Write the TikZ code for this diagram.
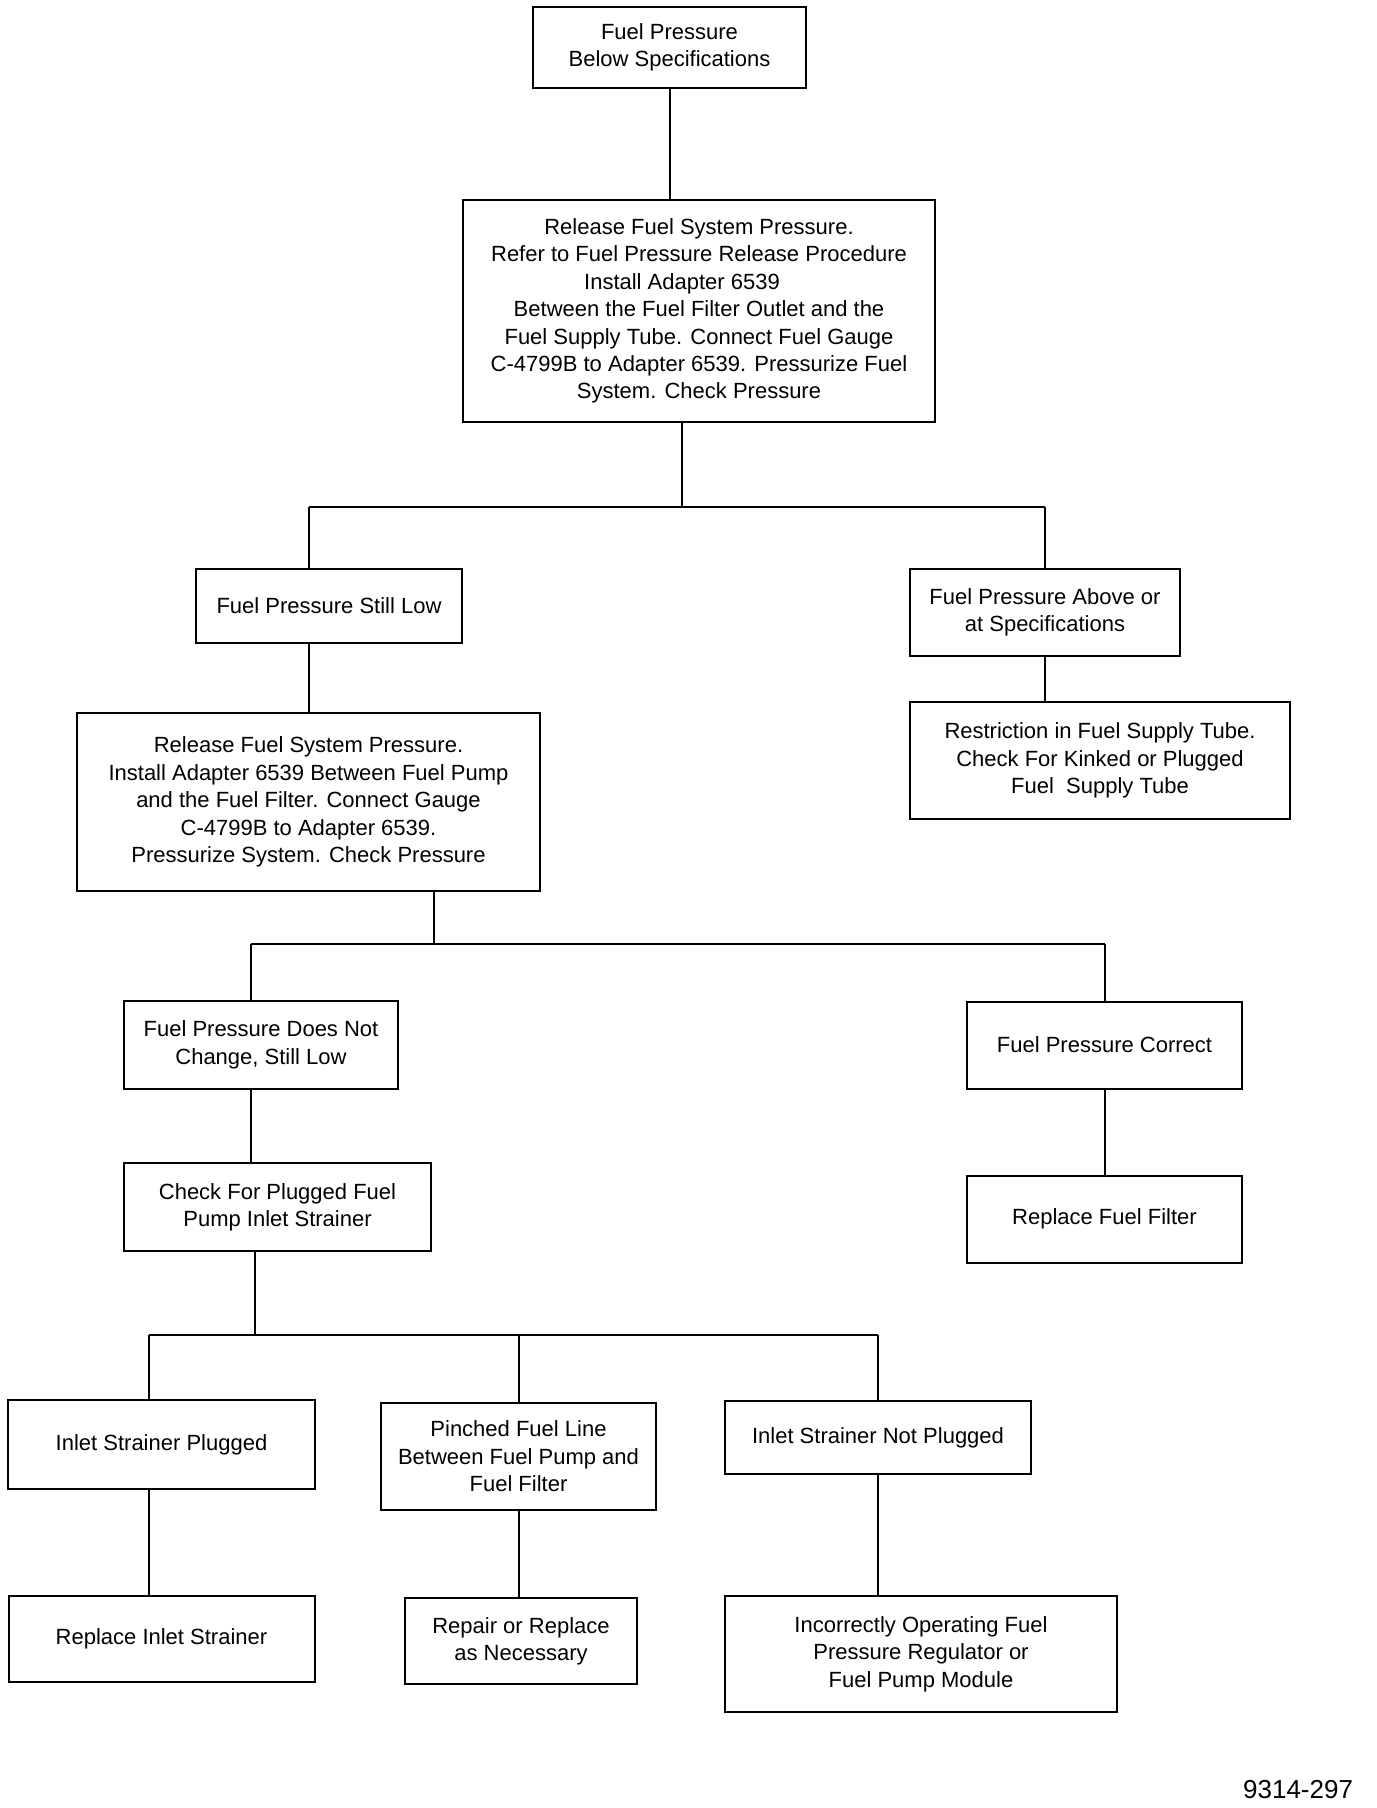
\documentclass[tikz,border=0pt]{standalone}
\usepackage{fontspec}
\setmainfont{Liberation Sans}
\usetikzlibrary{positioning}

\tikzset{
  box/.style = {draw, align=center, inner sep=0pt, font=\fontsize{11}{13.7}\selectfont},
}

\begin{document}
\begin{tikzpicture}[line width=1pt]
\useasboundingbox (0,0) rectangle (688pt,-904pt);

\node[box, minimum width=136.5pt, minimum height=40.5pt] (top) at (334.75pt,-23.75pt)
  {Fuel Pressure\\Below Specifications};
\node[box, minimum width=236pt, minimum height=111pt] (rel1) [below = 55pt of top, xshift=14.75pt]
  {Release Fuel System Pressure.\\Refer to Fuel Pressure Release Procedure\\
   Install Adapter 6539\makebox[17pt]{}\\Between the Fuel Filter Outlet and the\\
   Fuel Supply Tube. Connect Fuel Gauge\\C-4799B to Adapter 6539. Pressurize Fuel\\
   System. Check Pressure};

% first split
\node[box, minimum width=133pt, minimum height=37pt] (still) [below = 72.5pt of rel1, xshift=-185pt]
  {Fuel Pressure Still Low};
\node[box, minimum width=135pt, minimum height=43.5pt] (above) [below = 72.5pt of rel1, xshift=173pt]
  {Fuel Pressure Above or\\at Specifications};
\node[box, minimum width=190pt, minimum height=58.5pt] (restr) [below = 22pt of above, xshift=27.5pt]
  {Restriction in Fuel Supply Tube.\\Check For Kinked or Plugged\\Fuel\ \ Supply Tube};
\node[box, minimum width=231.5pt, minimum height=89pt] (rel2) [below = 34pt of still, xshift=-10.25pt]
  {Release Fuel System Pressure.\\Install Adapter 6539 Between Fuel Pump\\
   and the Fuel Filter. Connect Gauge\\C-4799B to Adapter 6539.\\
   Pressurize System. Check Pressure};

% second split
\node[box, minimum width=137pt, minimum height=44pt] (notch) [below = 54pt of rel2, xshift=-23.75pt]
  {Fuel Pressure Does Not\\Change, Still Low};
\node[box, minimum width=137.5pt, minimum height=43.5pt] (correct) [right = 283.5pt of notch]
  {Fuel Pressure Correct};
\node[box, minimum width=137.5pt, minimum height=43.5pt] (filter) [below = 42.5pt of correct]
  {Replace Fuel Filter};
\node[box, minimum width=153.5pt, minimum height=44pt] (check) [below = 36pt of notch, xshift=8.25pt]
  {Check For Plugged Fuel\\Pump Inlet Strainer};

% third split
\node[box, minimum width=153.5pt, minimum height=44.5pt] (plugged) [below = 73.5pt of check, xshift=-58pt]
  {Inlet Strainer Plugged};
\node[box, minimum width=137.5pt, minimum height=53.5pt] (pinched) [below = 75pt of check, xshift=120.5pt]
  {Pinched Fuel Line\\Between Fuel Pump and\\Fuel Filter};
\node[box, minimum width=153pt, minimum height=36.5pt] (notpl) [below = 74pt of check, xshift=300.25pt]
  {Inlet Strainer Not Plugged};
\node[box, minimum width=153pt, minimum height=43pt] (replin) [below = 52.5pt of plugged]
  {Replace Inlet Strainer};
\node[box, minimum width=116pt, minimum height=43pt] (repair) [below = 43pt of pinched, xshift=1.25pt]
  {Repair or Replace\\as Necessary};
\node[box, minimum width=196pt, minimum height=58pt] (incorr) [below = 60pt of notpl, xshift=21.5pt]
  {Incorrectly Operating Fuel\\Pressure Regulator or\\Fuel Pump Module};

\node[anchor=base east, inner sep=0pt, font=\fontsize{13}{15}\selectfont] (fig) at (677pt,-899pt) {9314-297};

% connectors
\draw (top.south) -- (top.south |- rel1.north);
\coordinate (j1) at ([xshift=-8.5pt, yshift=-42pt]rel1.south);
\draw ([xshift=-8.5pt]rel1.south) -- (j1);
\draw (rel2 |- j1) -- (above |- j1);
\draw (rel2 |- j1) -- (rel2 |- still.north);
\draw (above |- j1) -- (above.north);
\draw (rel2 |- still.south) -- (rel2.north);
\draw (above.south) -- (above.south |- restr.north);

\coordinate (j2) at ([xshift=62.75pt, yshift=-26pt]rel2.south);
\coordinate (n1) at ([xshift=-5pt]notch.north);
\coordinate (n2) at ([xshift=-5pt]notch.south);
\draw (rel2.south -| j2) -- (j2);
\draw (n1 |- j2) -- (correct |- j2);
\draw (n1 |- j2) -- (n1);
\draw (correct |- j2) -- (correct.north);
\draw (n2) -- (n2 |- check.north);
\draw (correct.south) -- (correct.south |- filter.north);

\coordinate (j3) at ([xshift=-11.25pt, yshift=-41.5pt]check.south);
\coordinate (p1) at ([xshift=-6.25pt]plugged.north);
\coordinate (p2) at ([xshift=-6.25pt]plugged.south);
\draw ([xshift=-11.25pt]check.south) -- (j3);
\draw (p1 |- j3) -- (notpl |- j3);
\draw (p1 |- j3) -- (p1);
\draw (pinched |- j3) -- (pinched.north);
\draw (notpl |- j3) -- (notpl.north);
\draw (p2) -- (p2 |- replin.north);
\draw (pinched.south) -- (pinched.south |- repair.north);
\draw (notpl.south) -- (notpl.south |- incorr.north);
\end{tikzpicture}
\end{document}
